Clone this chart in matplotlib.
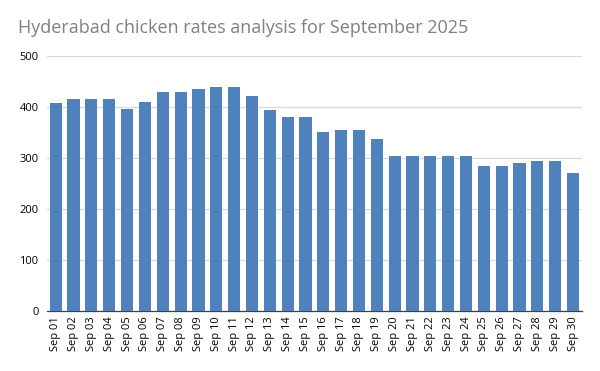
import matplotlib.pyplot as plt
import matplotlib

matplotlib.rc('font', family='Open Sans')

days = ["Sep %02d" % d for d in range(1, 31)]
rates = [408, 416, 416, 416, 396, 410, 430, 430, 435, 440,
         440, 422, 395, 380, 380, 351, 355, 355, 337, 304,
         304, 304, 304, 304, 285, 285, 290, 294, 294, 270]
yticks = [0, 100, 200, 300, 400, 500]

fig = plt.figure(figsize=(6, 3.71), dpi=100)
ax = fig.add_axes([0.078, 0.162, 0.892, 0.687])

ax.bar(range(len(days)), rates, width=0.68, color='#4F81BD', zorder=3)
ax.set_xlim(-0.5, len(days) - 0.5)
ax.set_ylim(0, 500)
ax.set_yticks(yticks)
ax.set_xticks(range(len(days)))
ax.set_xticklabels(days, rotation=90, fontsize=8)
ax.tick_params(axis='y', labelsize=8, length=0, pad=6)
ax.tick_params(axis='x', length=0, pad=4)
ax.grid(axis='y', color='#D9D9D9', linewidth=0.9, zorder=0)
for s in ['top', 'right', 'left']:
    ax.spines[s].set_visible(False)
ax.spines['bottom'].set_color('#404040')
ax.spines['bottom'].set_linewidth(0.9)

fig.text(0.03, 0.925, "Hyderabad chicken rates analysis for September 2025",
         fontsize=13, color='#808080', va='center')

fig.savefig("out.png", dpi=100)
